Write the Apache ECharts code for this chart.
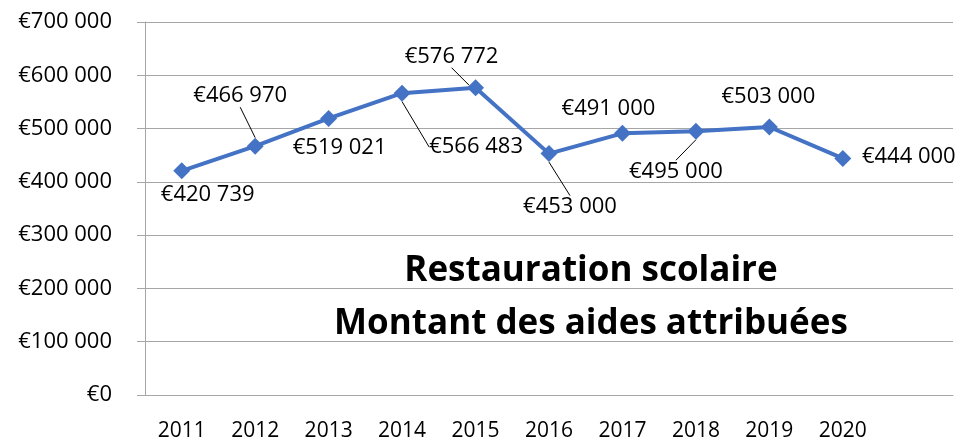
<!DOCTYPE html>
<html>
<head>
<meta charset="utf-8">
<script src="https://cdn.jsdelivr.net/npm/echarts@6/dist/echarts.min.js"></script>
<style>
  html, body { margin: 0; padding: 0; background: #fff; }
  #main { width: 961px; height: 442px; }
</style>
</head>
<body>
<div id="main"></div>
<script>
// années (la dernière case de l'axe est vide dans le graphique d'origine)
var years = ["2011", "2012", "2013", "2014", "2015", "2016", "2017", "2018", "2019", "2020", ""];
var montants = [420739, 466970, 519021, 566483, 576772, 453000, 491000, 495000, 503000, 444000];

// décalage des étiquettes par rapport au point, et ligne de rappel ou non
var labelOffsets = [[26, 24], [-15, -50], [11, 29], [74, 54], [-24, -31], [21, 53], [-14, -25], [-20, 40], [-1, -30], [66, -2]];
var leaderLines = [false, true, false, true, true, true, false, true, false, false];

var fontFamily = "'Open Sans', sans-serif";

function euro(v) {
  return "€" + String(v).replace(/\B(?=(\d{3})+(?!\d))/g, " ");
}

var myChart = echarts.init(document.getElementById("main"));

var option = {
  animation: false,
  title: {
    text: "Restauration scolaire\nMontant des aides attribuées",
    left: 586,
    top: 240,
    textAlign: "center",
    textStyle: {
      fontFamily: fontFamily,
      fontWeight: "bold",
      fontSize: 35,
      lineHeight: 53,
      color: "#000"
    }
  },
  grid: {
    left: 145,
    right: 8,
    top: 22,
    bottom: 44
  },
  xAxis: {
    type: "category",
    data: years,
    boundaryGap: true,
    axisLine: { lineStyle: { color: "#a6a6a6", width: 1 } },
    axisTick: { length: 7, lineStyle: { color: "#a6a6a6" } },
    axisLabel: {
      margin: 26,
      color: "#000",
      fontSize: 21,
      fontFamily: fontFamily
    }
  },
  yAxis: {
    type: "value",
    min: 0,
    max: 700000,
    interval: 100000,
    axisLine: { show: true, lineStyle: { color: "#a6a6a6", width: 1 } },
    axisTick: { show: true, length: 8, lineStyle: { color: "#a6a6a6" } },
    splitLine: { lineStyle: { color: "#a6a6a6", width: 1 } },
    axisLabel: {
      margin: 33,
      color: "#000",
      fontSize: 22,
      fontFamily: fontFamily,
      formatter: euro
    }
  },
  series: [
    {
      type: "line",
      symbol: "diamond",
      symbolSize: 17,
      lineStyle: { color: "#4472c4", width: 4 },
      itemStyle: { color: "#4472c4" },
      label: {
        show: true,
        position: "inside",
        color: "#000",
        fontSize: 22,
        fontFamily: fontFamily,
        formatter: function (p) { return euro(p.value); }
      },
      labelLine: {
        show: true,
        lineStyle: { color: "#000", width: 1 }
      },
      labelLayout: function (params) {
        var off = labelOffsets[params.dataIndex];
        return { dx: off[0], dy: off[1] };
      },
      data: montants.map(function (v, i) {
        return { value: v, labelLine: { show: leaderLines[i] } };
      })
    }
  ]
};

myChart.setOption(option);
</script>
</body>
</html>
